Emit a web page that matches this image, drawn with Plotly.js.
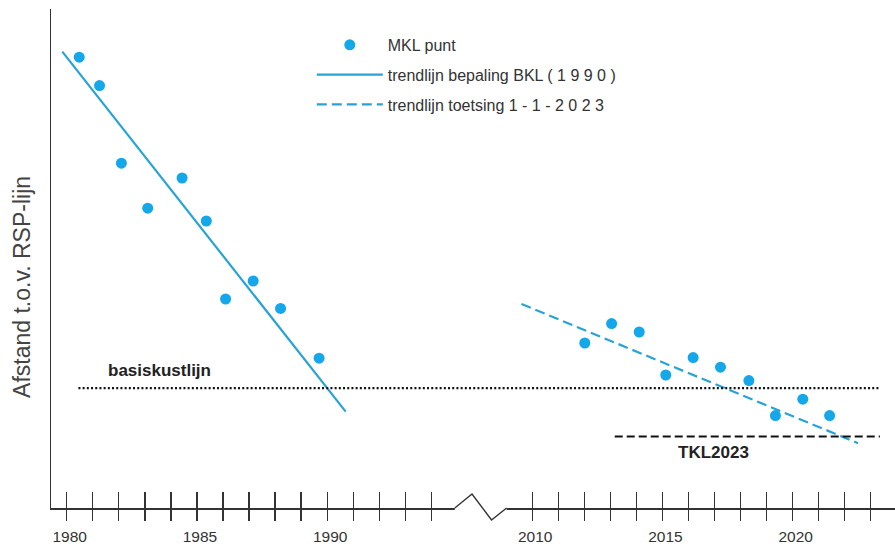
<!DOCTYPE html>
<html>
<head>
<meta charset="utf-8">
<script src="https://cdn.plot.ly/plotly-3.0.1.min.js"></script>
<style>html,body{margin:0;padding:0;background:#fff;}#chart{width:895px;height:547px;}</style>
</head>
<body>
<div id="chart"></div>
<script>
// ---- data (y in arbitrary distance units) ----
var mklYears = [1980.48, 1981.26, 1982.10, 1983.11, 1984.43, 1985.36, 1986.10, 1987.16, 1988.21, 1989.69,
                2012.02, 2013.05, 2014.11, 2015.13, 2016.18, 2017.23, 2018.32, 2019.34, 2020.39, 2021.42];
var mklValues = [225.4, 211.2, 172.4, 149.9, 165.0, 143.5, 104.5, 113.5, 99.8, 74.9,
                 82.5, 92.2, 88.0, 66.5, 75.2, 70.4, 63.7, 46.2, 54.4, 46.2];
var bklTrendYears = [1979.83, 1990.71];
var bklTrendValues = [228.2, 48.2];
var toetsTrendYears = [2009.59, 2022.51];
var toetsTrendValues = [102.0, 32.4];
var basisYears = [1980.45, 2023.35];
var basisValues = [59.9, 59.9];
var tklYears = [2013.17, 2023.35];
var tklValues = [35.7, 35.7];
var tickYears = [1980,1981,1982,1983,1984,1985,1986,1987,1988,1989,1990,1991,1992,1993,1994,
                 2010,2011,2012,2013,2014,2015,2016,2017,2018,2019,2020,2021,2022,2023,2024];
var labeledYears = [1980, 1985, 1990, 2010, 2015, 2020];

// ---- broken axis: years after the break are shifted left ----
var GAP = 12.13;
function pos(y) { return y >= 1997 ? y - GAP : y; }
function mapAll(a) { return a.map(pos); }

var FONT = 'Arial, "Liberation Sans", sans-serif';
var MARKER_BLUE = '#14a7ea';
var LINE_BLUE = '#27a3d6';

var tickVals = mapAll(tickYears);
var tickText = tickYears.map(function (y) { return labeledYears.indexOf(y) >= 0 ? String(y) : ''; });

var traces = [
  { x: mapAll(mklYears), y: mklValues, type: 'scatter', mode: 'markers', name: 'MKL punt',
    legendgroup: 'a', marker: { color: MARKER_BLUE, size: 11 } },
  { x: mapAll(bklTrendYears), y: bklTrendValues, type: 'scatter', mode: 'lines',
    name: 'trendlijn bepaling BKL ( 1 9 9 0 )', legendgroup: 'b',
    line: { color: LINE_BLUE, width: 2.2 } },
  { x: mapAll(toetsTrendYears), y: toetsTrendValues, type: 'scatter', mode: 'lines',
    name: 'trendlijn toetsing 1 - 1 - 2 0 2 3', legendgroup: 'c',
    line: { color: LINE_BLUE, width: 2.2, dash: '10px,5px' } },
  { x: mapAll(basisYears), y: basisValues, type: 'scatter', mode: 'lines', xaxis: 'x2',
    showlegend: false, hoverinfo: 'skip', line: { color: '#111', width: 2.2, dash: '2px,2.2px' } },
  { x: mapAll(tklYears), y: tklValues, type: 'scatter', mode: 'lines', xaxis: 'x2',
    showlegend: false, hoverinfo: 'skip', line: { color: '#111', width: 2, dash: '8px,4px' } }
];

var XR = [1979.397, 2011.80];
var bs = 1994.9, bp = 1995.56, bt = 1996.31, be = 1996.89;

var layout = {
  width: 895, height: 547,
  margin: { l: 51, r: 0, t: 9, b: 39 },
  paper_bgcolor: '#fff', plot_bgcolor: '#fff',
  font: { family: FONT, color: '#333', size: 15 },
  showlegend: true,
  legend: {
    x: 0.309, xanchor: 'left', y: 0.962, yanchor: 'top',
    bgcolor: 'rgba(0,0,0,0)', borderwidth: 0,
    font: { family: FONT, size: 16, color: '#333' },
    traceorder: 'grouped', tracegroupgap: 6, itemwidth: 66
  },
  xaxis: {
    range: XR, showgrid: false, zeroline: false,
    showline: true, linecolor: '#333', linewidth: 1.5,
    tickmode: 'array', tickvals: tickVals, ticktext: tickText,
    ticks: 'outside', ticklen: 11, tickwidth: 1.3, tickcolor: '#333',
    tickfont: { family: FONT, size: 15.5, color: '#333' }, ticklabelshift: 3, ticklabelstandoff: 3
  },
  xaxis2: {
    range: XR, overlaying: 'x', anchor: 'y', side: 'bottom', showgrid: false, zeroline: false,
    showline: false, tickmode: 'array', tickvals: tickVals, showticklabels: false,
    ticks: 'inside', ticklen: 16, tickwidth: 1.3, tickcolor: '#333'
  },
  yaxis: {
    range: [0, 249.5], showgrid: false, zeroline: false,
    showline: true, linecolor: '#333', linewidth: 1.3,
    ticks: '', showticklabels: false
  },
  shapes: [
    { type: 'line', xref: 'x', yref: 'paper', x0: bs, x1: be, y0: 0, y1: 0,
      line: { color: '#fff', width: 4 }, layer: 'above' },
    { type: 'path', xref: 'x', yref: 'paper', layer: 'above',
      path: 'M' + bs + ',0 L' + bp + ',0.028 L' + bt + ',-0.024 L' + be + ',0',
      line: { color: '#333', width: 1.4 } }
  ],
  annotations: [
    { text: 'Afstand t.o.v. RSP-lijn', textangle: -90, xref: 'paper', yref: 'paper',
      x: -0.0344, y: 0.443, xanchor: 'center', yanchor: 'middle', showarrow: false,
      font: { family: FONT, size: 23, color: '#444' } },
    { text: '<b>basiskustlijn</b>', x: pos(1983.58), y: 69, xref: 'x', yref: 'y', showarrow: false,
      font: { family: FONT, size: 17, color: '#222' } },
    { text: '<b>TKL2023</b>', x: pos(2016.98), y: 28, xref: 'x', yref: 'y', showarrow: false,
      font: { family: FONT, size: 17, color: '#222' } }
  ]
};

Plotly.newPlot('chart', traces, layout, { displayModeBar: false, staticPlot: true });
</script>
</body>
</html>
